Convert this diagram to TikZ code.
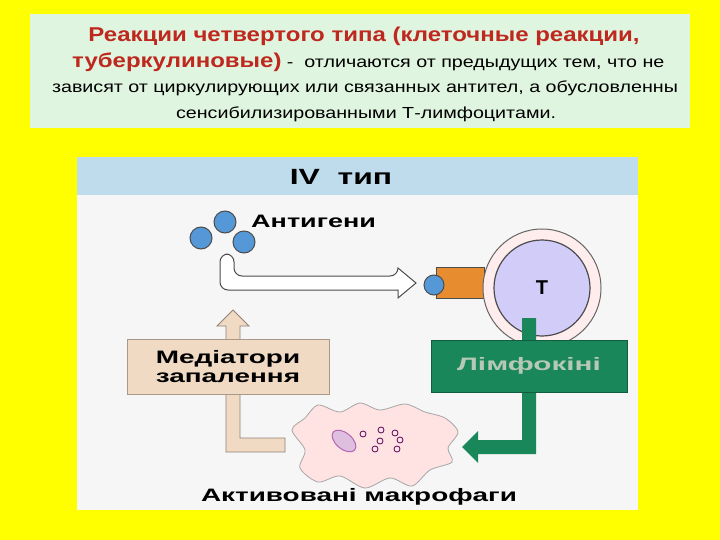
\documentclass[tikz,border=0pt]{standalone}
\usepackage{fontspec}
\usepackage{graphicx}
\usetikzlibrary{shapes.geometric}
\setmainfont{Liberation Sans}
\newcommand{\wx}[2]{\scalebox{#1}[1]{#2}}
\begin{document}
\begin{tikzpicture}[x=1pt,y=-1pt,
  lbl/.style={font=\bfseries\fontsize{18}{18}\selectfont, inner sep=0pt},
  ag/.style={circle, draw=black!70, fill=cyan!60!blue!70, line width=1pt, minimum size=22pt, inner sep=0pt},
  sm/.style={circle, draw=violet!70!black, fill=pink!40, line width=0.8pt, minimum size=6pt, inner sep=0pt}]
\definecolor{bgy}{RGB}{255,255,0}
\definecolor{pg}{RGB}{224,245,224}
\definecolor{tr}{RGB}{190,40,30}
\definecolor{gr}{RGB}{25,135,90}
\definecolor{bei}{RGB}{240,218,195}
\definecolor{strip}{RGB}{190,220,235}
\fill[bgy] (0,0) rectangle (720,540);
\useasboundingbox (0,0) rectangle (720,540);
\fill[pg] (30,14) rectangle (690,128);
\node[font=\bfseries\fontsize{20}{21}\selectfont, text=tr, inner sep=0pt] (t1) at (364,36) {\wx{1.2}{Реакции четвертого типа (клеточные реакции,}};
\node[anchor=west, inner sep=0pt] (t2) at (72,62) {\wx{1.2}{\fontsize{20}{21}\selectfont\bfseries\color{tr}туберкулиновые)}\wx{1.23}{\fontsize{16}{17}\selectfont{} -\ \ отличаются от предыдущих тем, что не}};
\node[font=\fontsize{16}{17}\selectfont, inner sep=0pt] (t3) at (365,88) {\wx{1.23}{зависят от циркулирующих или связанных антител, а обусловленны}};
\node[font=\fontsize{16}{17}\selectfont, inner sep=0pt] (t4) at (366,114) {\wx{1.23}{сенсибилизированными Т-лимфоцитами.}};
% panel
\fill[white!93!gray] (77,157) rectangle (638,510);
\fill[strip] (77,157) rectangle (638,195);
\node[font=\bfseries\fontsize{22}{22}\selectfont, inner sep=0pt] (iv) at (341,177) {\wx{1.45}{IV\ \ тип}};
% antigens
\node[ag] (a1) at (225,222) {};
\node[ag] (a2) at (201,238) {};
\node[ag] (a3) at (244,242) {};
\node[lbl, anchor=west] (agl) at (251,221) {\wx{1.5}{Антигени}};
% white arrow
\draw[black!70, line width=1pt, fill=white, rounded corners=8pt] (220,254)--(234,254)--(234,276)--(398,276)[sharp corners]--(398,268)--(416,283)--(398,298)--(398,290)[rounded corners=8pt]--(220,290)--cycle;
% T cell
\fill[orange!60!brown!90, draw=black!70, line width=1pt] (436,267) rectangle (484,298);
\node[circle, draw=black!60, fill=pink!30, line width=1pt, minimum width=118pt, inner sep=0pt] (tout) at (542,288) {};
\node[circle, draw=black!70, fill=violet!25!blue!20, line width=1.2pt, minimum width=96pt, inner sep=0pt, font=\bfseries\fontsize{20}{22}\selectfont] (T) at (542,288) {T};
\node[ag, minimum size=20pt] (a4) at (434,285) {};
% green arrow
\fill[gr] (522,340)--(522,318)--(536,318)--(536,454)--(478,454)--(478,463)--(462,447)--(478,431)--(478,440)--(522,440)--cycle;
\node[draw=gr!70!black, fill=gr, minimum width=196pt, minimum height=52pt, inner sep=0pt, font=\bfseries\fontsize{18}{18}\selectfont, text=green!15!gray!50] (lf) at (529,366) {\wx{1.65}{Лімфокіні}};
% beige arrow
\filldraw[fill=bei, draw=bei!60!black, line width=0.8pt] (285,438)--(240,438)--(240,326)--(249,326)--(233,310)--(217,326)--(226,326)--(226,452)--(285,452)--cycle;
\node[draw=bei!70!black, fill=bei, minimum width=202pt, minimum height=55pt, inner sep=0pt, align=left, font=\bfseries\fontsize{18}{19}\selectfont] (med) at (228,367) {\wx{1.55}{Медіатори}\\\wx{1.55}{запалення}};
% macrophage
\filldraw[fill=pink!45, draw=gray!70, line width=0.8pt] plot[smooth cycle] coordinates {(292,430)(305,418)(318,405)(340,412)(360,403)(380,410)(405,404)(425,412)(445,418)(458,432)(448,448)(452,462)(430,470)(412,486)(390,478)(365,488)(340,476)(318,482)(300,468)(305,450)};
\node[ellipse, draw=violet!60, fill=violet!25, line width=1pt, minimum width=28pt, minimum height=16pt, rotate=-40, inner sep=0pt] (nuc) at (344,441) {};
\node[sm] (s1) at (363,434) {};
\node[sm] (s2) at (381,430) {};
\node[sm] (s3) at (395,433) {};
\node[sm] (s4) at (380,441) {};
\node[sm] (s5) at (400,440) {};
\node[sm] (s6) at (375,449) {};
\node[sm] (s7) at (397,449) {};
\node[lbl] (mac) at (359,497) {\wx{1.55}{Активовані макрофаги}};
\end{tikzpicture}
\end{document}
